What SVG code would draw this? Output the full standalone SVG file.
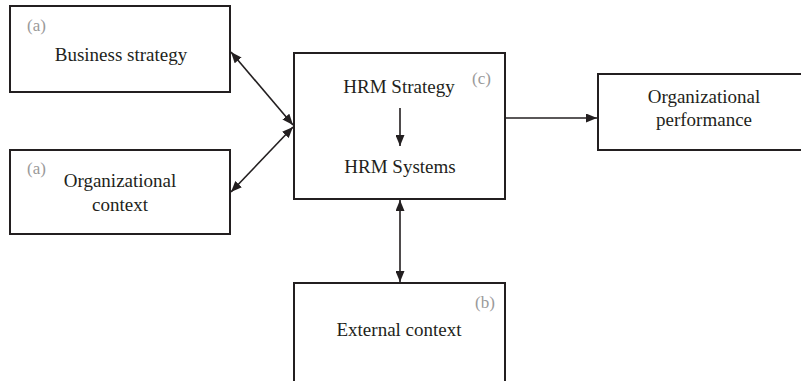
<svg xmlns="http://www.w3.org/2000/svg" width="801" height="381" viewBox="0 0 801 381">
<defs>
<style>
.box{fill:#fff;stroke:#231f20;stroke-width:2}
.t{font-family:"Liberation Serif","Times New Roman",serif;font-size:19px;fill:#231f20;text-anchor:middle}
.tag{font-family:"Liberation Serif","Times New Roman",serif;font-size:17px;fill:#9a9a9a}
.c{stroke:#231f20;stroke-width:1.6;fill:none}
</style>
<marker id="ah" viewBox="0 0 11 9" refX="11" refY="4.5" markerWidth="11" markerHeight="9" markerUnits="userSpaceOnUse" orient="auto-start-reverse">
<path d="M0,0 L11,4.5 L0,9 Z" fill="#231f20"/>
</marker>
</defs>
<rect width="801" height="381" fill="#fff"/>
<g id="business-strategy">
<rect class="box" x="10" y="6" width="220" height="86"/>
<text class="tag" x="27" y="31">(a)</text>
<text class="t" x="121" y="61">Business strategy</text>
</g>
<g id="organizational-context">
<rect class="box" x="10" y="150" width="220" height="84"/>
<text class="tag" x="27" y="174">(a)</text>
<text class="t" x="120" y="187">Organizational</text>
<text class="t" x="120" y="211">context</text>
</g>
<g id="hrm">
<rect class="box" x="294" y="53" width="211" height="146"/>
<text class="tag" x="472" y="84">(c)</text>
<text class="t" x="399" y="93">HRM Strategy</text>
<text class="t" x="400" y="173">HRM Systems</text>
<line class="c" x1="400" y1="108" x2="400" y2="146" marker-end="url(#ah)"/>
</g>
<g id="organizational-performance">
<rect class="box" x="598" y="74" width="210" height="76"/>
<text class="t" x="704" y="103">Organizational</text>
<text class="t" x="704" y="126">performance</text>
</g>
<g id="external-context">
<rect class="box" x="294" y="283" width="211" height="110"/>
<text class="tag" x="475" y="308">(b)</text>
<text class="t" x="399" y="336">External context</text>
</g>
<g id="connectors">
<line class="c" x1="231" y1="52" x2="293" y2="125" marker-start="url(#ah)" marker-end="url(#ah)"/>
<line class="c" x1="231" y1="192" x2="293" y2="127" marker-start="url(#ah)" marker-end="url(#ah)"/>
<line class="c" x1="505" y1="118" x2="597" y2="118" marker-end="url(#ah)"/>
<line class="c" x1="400" y1="200" x2="400" y2="282" marker-start="url(#ah)" marker-end="url(#ah)"/>
</g>
</svg>
